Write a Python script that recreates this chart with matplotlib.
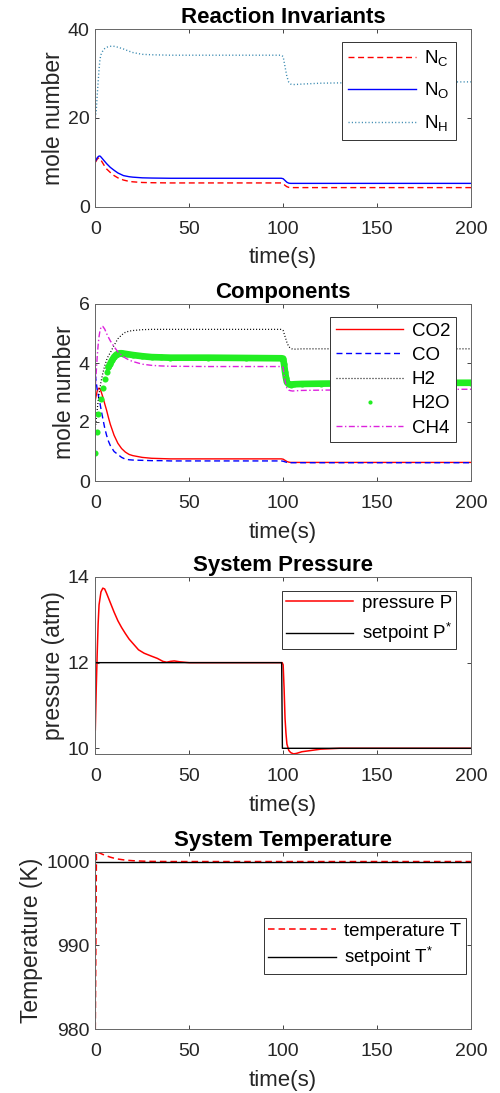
import numpy as np
import matplotlib.pyplot as plt

plt.rcParams['font.family'] = ['Liberation Sans', 'DejaVu Sans']
plt.rcParams['mathtext.fontset'] = 'custom'
plt.rcParams['mathtext.rm'] = 'Liberation Sans'

# ---- reaction invariants ----
t_inv = [0, 0.5, 1, 1.5, 2, 2.5, 3, 4, 5, 6, 8, 10, 12, 15, 18, 20, 25, 30, 40, 60,
         80, 99, 100, 101, 102, 103, 104, 106, 110, 120, 150, 200]
n_c = [10.0, 10.3, 10.7, 10.9, 11.0, 10.8, 10.5, 9.8, 9.1, 8.5, 7.7, 7.0, 6.5, 6.0, 5.7, 5.6,
       5.45, 5.4, 5.35, 5.35, 5.35, 5.35, 5.2, 4.8, 4.5, 4.35, 4.3, 4.3, 4.3, 4.3, 4.3, 4.3]
n_o = [10.2, 10.6, 11.0, 11.25, 11.4, 11.4, 11.2, 10.7, 10.2, 9.7, 8.85, 8.2, 7.6, 7.0, 6.75,
       6.65, 6.5, 6.45, 6.4, 6.4, 6.4, 6.4, 6.3, 5.9, 5.5, 5.3, 5.25, 5.25, 5.25, 5.25, 5.25, 5.25]
n_h = [20.0, 21.5, 25.0, 28.0, 31.0, 33.2, 34.2, 35.1, 35.6, 35.9, 36.1, 36.1, 35.9, 35.5, 35.0,
       34.7, 34.3, 34.2, 34.1, 34.1, 34.1, 34.1, 33.8, 31.5, 29.3, 28.0, 27.6, 27.5, 27.6, 27.8,
       28.0, 28.1]

# ---- components ----
t_comp = [0, 0.5, 1, 1.5, 2, 2.5, 3, 3.5, 4, 5, 6, 7, 8, 10, 12, 14, 16, 18, 20, 25, 30, 35,
          40, 60, 80, 99, 100, 101, 102, 103, 104, 105, 107, 110, 120, 150, 200]
co2 = [2.75, 2.9, 3.05, 3.12, 3.15, 3.12, 3.05, 2.95, 2.85, 2.62, 2.4, 2.15, 1.92, 1.55, 1.28,
       1.1, 0.98, 0.9, 0.86, 0.8, 0.77, 0.76, 0.75, 0.75, 0.75, 0.75, 0.74, 0.7, 0.66, 0.64,
       0.63, 0.63, 0.63, 0.63, 0.63, 0.63, 0.63]
co = [3.6, 3.35, 3.1, 2.95, 2.78, 2.63, 2.45, 2.28, 2.12, 1.8, 1.55, 1.35, 1.2, 1.0, 0.9, 0.8,
      0.74, 0.72, 0.71, 0.7, 0.69, 0.69, 0.68, 0.68, 0.68, 0.68, 0.67, 0.65, 0.63, 0.62, 0.62,
      0.62, 0.62, 0.62, 0.62, 0.62, 0.62]
h2 = [1.8, 2.1, 2.4, 2.7, 2.95, 3.15, 3.35, 3.5, 3.65, 3.9, 4.1, 4.25, 4.35, 4.6, 4.82, 4.95,
      5.04, 5.08, 5.1, 5.13, 5.14, 5.14, 5.14, 5.14, 5.14, 5.14, 5.1, 4.9, 4.7, 4.55, 4.5, 4.47,
      4.47, 4.48, 4.48, 4.48, 4.48]
ch4 = [3.2, 3.7, 4.2, 4.6, 4.9, 5.1, 5.2, 5.25, 5.24, 5.15, 5.0, 4.87, 4.75, 4.55, 4.38, 4.26,
       4.17, 4.1, 4.05, 3.96, 3.92, 3.9, 3.89, 3.88, 3.88, 3.88, 3.85, 3.4, 3.15, 3.08, 3.06,
       3.05, 3.06, 3.07, 3.08, 3.1, 3.11]
t_h2o = [0, 1.1, 1.5, 3.0, 4.0, 5.0, 6.0, 7, 8, 9, 10, 11, 12, 13, 14, 15, 17, 20, 25, 30, 35,
         40, 60, 80, 99, 100, 100.5, 101, 101.5, 102, 103, 104, 106, 110, 120, 150, 200]
h2o = [0.94, 1.65, 2.26, 2.77, 3.14, 3.45, 3.68, 3.85, 3.98, 4.1, 4.2, 4.27, 4.31, 4.33, 4.33,
       4.32, 4.3, 4.27, 4.23, 4.2, 4.19, 4.18, 4.18, 4.17, 4.16, 4.15, 3.95, 3.7, 3.5, 3.35,
       3.28, 3.27, 3.28, 3.29, 3.3, 3.32, 3.33]

# ---- pressure ----
t_p = [0, 0.5, 1, 1.5, 2, 3, 4, 5, 6, 8, 10, 12, 14, 16, 18, 20, 23, 26, 30, 33, 36, 38, 40,
       42, 45, 50, 60, 80, 99.5, 100, 100.5, 101, 101.5, 102, 103, 104, 105.5, 107, 110, 115,
       120, 130, 150, 200]
pres = [10.43, 11.4, 12.2, 12.9, 13.35, 13.65, 13.74, 13.72, 13.62, 13.4, 13.18, 12.98, 12.82,
        12.68, 12.55, 12.45, 12.3, 12.22, 12.15, 12.1, 12.03, 12.01, 12.03, 12.04, 12.02, 12.0,
        12.0, 12.0, 12.0, 11.95, 11.4, 10.7, 10.35, 10.1, 9.95, 9.9, 9.87, 9.88, 9.92, 9.95,
        9.98, 10.0, 10.0, 10.0]
t_psp = [0, 99.2, 99.6, 200]
p_sp = [12, 12, 10, 10]

# ---- temperature ----
t_T = [0, 0.3, 0.6, 1, 2, 4, 6, 8, 10, 12, 16, 20, 25, 30, 40, 200]
temp = [980, 990, 1001.2, 1001.15, 1001.05, 1000.85, 1000.68, 1000.52, 1000.4, 1000.3,
        1000.17, 1000.1, 1000.05, 1000.02, 1000.0, 1000.0]
t_Tsp = [0, 200]
T_sp = [1000, 1000]

W, H = 500, 1093
fig = plt.figure(figsize=(W / 100, H / 100), dpi=100)


def make_axes(top, bottom):
    ax = fig.add_axes([95.3 / W, 1 - bottom / H, (471 - 95.3) / W, (bottom - top) / H])
    ax.set_xlim(0, 200)
    ax.set_xticks([0, 50, 100, 150, 200])
    ax.tick_params(direction='in', top=True, right=True, length=2.8, width=0.6,
                   colors='0.15', labelsize=14)
    ax.tick_params(axis='y', pad=4)
    ax.tick_params(axis='x', pad=10)
    for s in ax.spines.values():
        s.set_color('0.4')
        s.set_linewidth(0.7)
    ax.set_xlabel('time(s)', fontsize=16, color='0.15', labelpad=7)
    return ax


def legend(ax, anchor, spacing=0.3, bpad=0.35):
    lg = ax.legend(loc='upper right', bbox_to_anchor=anchor, borderaxespad=0, fontsize=13.5,
                   handlelength=3.6, handletextpad=0.45, labelspacing=spacing,
                   borderpad=bpad, fancybox=False, framealpha=1)
    lg.get_frame().set_edgecolor('0.2')
    lg.get_frame().set_linewidth(0.7)
    return lg


dash = (4.3, 2.6)
dot = (0.8, 1.6)

ax1 = make_axes(29, 206.7)
ax1.plot(t_inv, n_c, color='red', lw=1.0, dashes=dash, label='N$_\\mathregular{C}$')
ax1.plot(t_inv, n_o, color='blue', lw=1.0, label='N$_\\mathregular{O}$')
ax1.plot(t_inv, n_h, color='#3a8ab0', lw=1.0, dashes=dot, label='N$_\\mathregular{H}$')
ax1.set_ylim(0, 40)
ax1.set_yticks([0, 20, 40])
ax1.set_ylabel('mole number', fontsize=16.5, color='0.15', labelpad=2)
ax1.set_title('Reaction Invariants', fontsize=16, fontweight='bold', pad=4)
legend(ax1, (0.960, 0.927), spacing=0.65)

ax2 = make_axes(304, 481)
ax2.plot(t_comp, co2, color='red', lw=1.0, label='CO2')
ax2.plot(t_comp, co, color='blue', lw=1.0, dashes=dash, label='CO')
ax2.plot(t_comp, h2, color='black', lw=0.9, dashes=dot, label='H2')
k = t_h2o.index(7)
ax2.plot(t_h2o[k:], h2o[k:], color='#22ee22', lw=4.8, solid_capstyle='round',
         solid_joinstyle='round')
ax2.plot(t_h2o, h2o, 'o', color='#22ee22', ms=4.4, mec='none', label='H2O')
ax2.plot(t_comp, ch4, color='#dd22dd', lw=1.0, dashes=(4.3, 1.8, 1, 1.8), label='CH4')
ax2.set_ylim(0, 6)
ax2.set_yticks([0, 2, 4, 6])
ax2.set_ylabel('mole number', fontsize=16.5, color='0.15', labelpad=2)
ax2.set_title('Components', fontsize=16, fontweight='bold', pad=4)
lg2 = legend(ax2, (0.960, 0.927), spacing=0.38, bpad=0.3)
lg2.legend_handles[3].set_markersize(3)

ax3 = make_axes(577, 754)
ax3.plot(t_p, pres, color='red', lw=1.1, label='pressure P')
ax3.plot(t_psp, p_sp, color='black', lw=1.0, label='setpoint P$^\\mathregular{*}$')
ax3.set_ylim(9.867, 14)
ax3.set_yticks([10, 12, 14])
ax3.set_ylabel('pressure (atm)', fontsize=16.5, color='0.15', labelpad=2)
ax3.set_title('System Pressure', fontsize=16, fontweight='bold', pad=4)
legend(ax3, (0.960, 0.921), spacing=0.45, bpad=0.2)

ax4 = make_axes(851.5, 1029)
ax4.plot(t_T, temp, color='red', lw=1.1, dashes=dash, label='temperature T')
ax4.plot(t_Tsp, T_sp, color='black', lw=1.0, label='setpoint T$^\\mathregular{*}$')
ax4.set_ylim(980, 1001.2)
ax4.set_yticks([980, 990, 1000])
ax4.set_ylabel('Temperature (K)', fontsize=16.5, color='0.15', labelpad=2)
ax4.set_title('System Temperature', fontsize=16, fontweight='bold', pad=4)
legend(ax4, (0.987, 0.625), spacing=0.25, bpad=0.25)

fig.savefig('out.png', dpi=100)
